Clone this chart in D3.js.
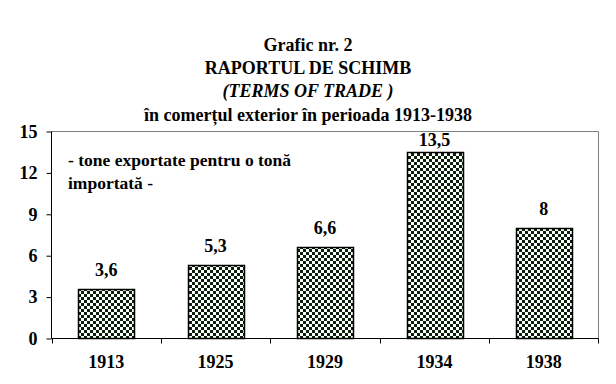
<!DOCTYPE html>
<html><head><meta charset="utf-8">
<script src="https://cdn.jsdelivr.net/npm/d3@7/dist/d3.min.js"></script>
<style>body{margin:0;background:#fff}svg{display:block}text{font-family:"Liberation Serif","Times New Roman",serif;font-weight:bold}</style>
</head><body><svg id="c" width="616" height="384"></svg>
<script>
const categories = ["1913","1925","1929","1934","1938"];
const values = [3.6, 5.3, 6.6, 13.5, 8];
const valueLabels = ["3,6","5,3","6,6","13,5","8"];
const yTicks = [0,3,6,9,12,15];
const titleLines = ["Grafic nr. 2","RAPORTUL DE SCHIMB","(TERMS OF TRADE )","în comerțul exterior în perioada 1913-1938"];
const noteLines = ["- tone exportate pentru o tonă","importată -"];

const svg = d3.select("#c");
const L = 51.5, R = 598.5, T = 131.5, B = 338.5;
const x = d3.scaleBand().domain(categories).range([L, R]).paddingInner(0.49).paddingOuter(0.245);
const band = d3.scaleBand().domain(categories).range([L, R]);
const y = d3.scaleLinear().domain([0, 15]).range([B, T]);

const defs = svg.append("defs");
const pat = defs.append("pattern").attr("id","chk").attr("patternUnits","userSpaceOnUse").attr("width",6).attr("height",6);
pat.append("rect").attr("width",6).attr("height",6).attr("fill","#fff");
pat.append("rect").attr("width",3).attr("height",3).attr("fill","#0a200a");
pat.append("rect").attr("x",3).attr("y",3).attr("width",3).attr("height",3).attr("fill","#0a200a");

// plot border top/right gray
svg.append("path").attr("d",`M${L},${T}H${R}V${B}`).attr("fill","none").attr("stroke","#808080").attr("stroke-width",1);

// bars
svg.selectAll("rect.bar").data(values).enter().append("rect").attr("class","bar")
  .attr("x",(d,i)=>Math.round(x(categories[i]))+0.5)
  .attr("y",d=>Math.round(y(d))+0.5)
  .attr("width",Math.round(x.bandwidth()))
  .attr("height",d=>B-Math.round(y(d))-0.5)
  .attr("fill","url(#chk)").attr("stroke","#000").attr("stroke-width",1.5);

// axes
const ya = d3.axisLeft(y).tickValues(yTicks).tickSize(5).tickFormat(d3.format("d"));
const yg = svg.append("g").attr("transform",`translate(${L},0)`).call(ya);
yg.attr("font-family",null);
yg.select(".domain").attr("stroke","#000").attr("d",`M0,${T}V${B}`);
yg.selectAll(".tick line").attr("stroke","#000");
yg.selectAll(".tick text").attr("font-size",18).attr("x",-14).attr("fill","#000");

svg.append("line").attr("x1",L).attr("x2",R).attr("y1",B).attr("y2",B).attr("stroke","#000");
svg.selectAll("line.xt").data(categories.concat(["end"])).enter().append("line").attr("class","xt")
  .attr("x1",(d,i)=> i<categories.length ? Math.round(band(d))+0.5 : R)
  .attr("x2",(d,i)=> i<categories.length ? Math.round(band(d))+0.5 : R)
  .attr("y1",B).attr("y2",B+5).attr("stroke","#000");
svg.selectAll("text.xl").data(categories).enter().append("text").attr("class","xl")
  .attr("x",d=>band(d)+band.bandwidth()/2).attr("y",368).attr("text-anchor","middle").attr("font-size",18).text(d=>d);

// value labels (kept inside the plot area, as the original does)
svg.selectAll("text.vl").data(values).enter().append("text").attr("class","vl")
  .attr("x",(d,i)=>x(categories[i])+x.bandwidth()/2).attr("y",d=>Math.max(y(d)-13, T+14))
  .attr("text-anchor","middle").attr("font-size",18).text((d,i)=>valueLabels[i]);

// title
svg.selectAll("text.tt").data(titleLines).enter().append("text").attr("class","tt")
  .attr("x",308).attr("y",(d,i)=>51+i*23.2).attr("text-anchor","middle").attr("font-size",18)
  .attr("font-style",(d,i)=>i===2?"italic":"normal").text(d=>d);

// note
svg.selectAll("text.nt").data(noteLines).enter().append("text").attr("class","nt")
  .attr("x",68).attr("y",(d,i)=>166+i*23).attr("font-size",17.5).text(d=>d);
</script></body></html>
